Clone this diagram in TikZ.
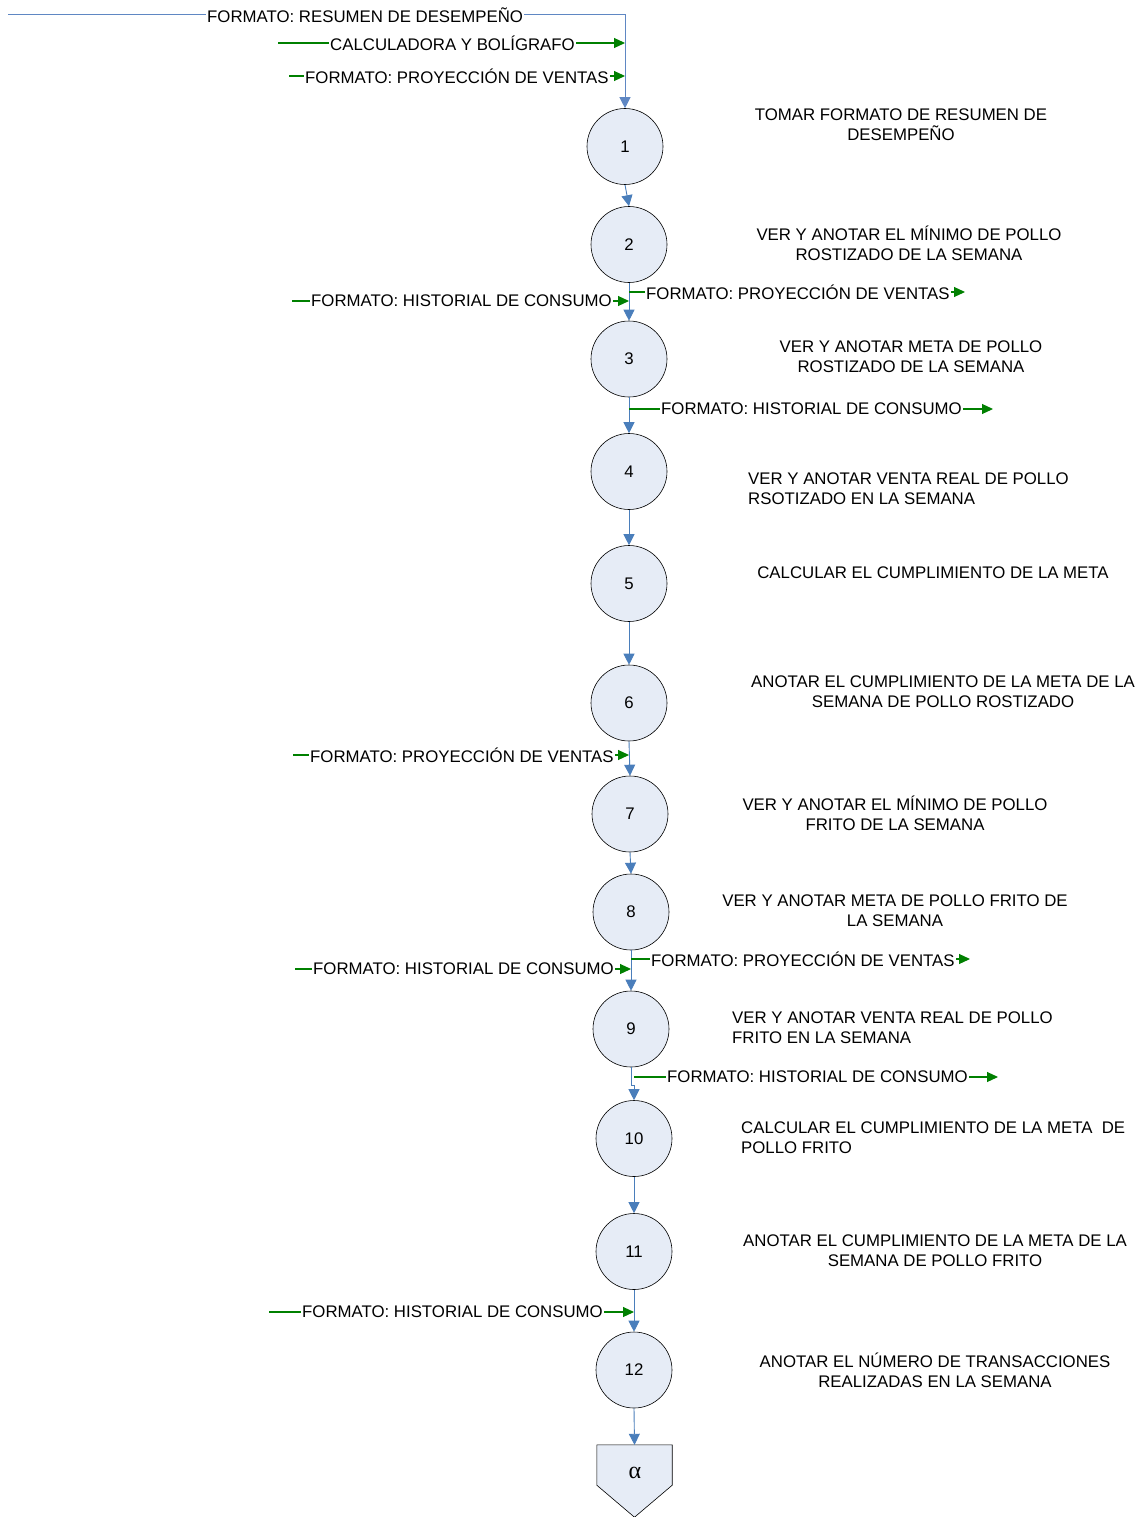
\documentclass[tikz,border=0pt]{standalone}
\usepackage{fontspec}
\setmainfont{Liberation Sans}
\newfontfamily\greekserif{Liberation Serif}
\usetikzlibrary{arrows.meta}
\definecolor{lineblue}{RGB}{74,126,187}
\definecolor{topblue}{RGB}{95,135,195}
\definecolor{fillblue}{RGB}{230,236,246}
\definecolor{flowgreen}{RGB}{0,128,0}
\begin{document}
\begin{tikzpicture}[x=1pt,y=-1pt,
 every node/.style={font=\fontsize{16.8}{20}\selectfont},
 stepnode/.style={circle, draw=black, line width=0.6pt, fill=fillblue, minimum size=76pt, inner sep=0pt},
 flow/.style={draw=lineblue, line width=0.9pt, -{Triangle[length=11pt,width=11pt]}},
 gin/.style={draw=flowgreen, line width=1.1pt, -{Triangle[length=11pt,width=10pt]}},
 lbl/.style={fill=white, inner sep=1pt, anchor=west},
 desc/.style={align=center, inner sep=0pt},
 descl/.style={align=left, inner sep=0pt, anchor=west},
]
\useasboundingbox (0,0) rectangle (1144,1517);
\fill[white] (0,0) rectangle (1144,1517);

% steps
\node[stepnode] (c1) at (625,146.5) {1};
\node[stepnode] (c2) at (629,244.5) {2};
\node[stepnode] (c3) at (629,359) {3};
\node[stepnode] (c4) at (629,471.5) {4};
\node[stepnode] (c5) at (629,583.5) {5};
\node[stepnode] (c6) at (629,703) {6};
\node[stepnode] (c7) at (630,814) {7};
\node[stepnode] (c8) at (631,912) {8};
\node[stepnode] (c9) at (631,1029) {9};
\node[stepnode] (c10) at (634,1138.5) {10};
\node[stepnode] (c11) at (634,1251.5) {11};
\node[stepnode] (c12) at (634,1370) {12};

% end connector (pentagon)
\node[minimum width=75pt, minimum height=40pt, inner sep=0pt] (pent) at (634.5,1465) {};
\draw[black, line width=0.6pt, fill=fillblue] (pent.north west) -- (pent.north east) -- (pent.south east) -- ([yshift=-32pt]pent.south) -- (pent.south west) -- cycle;
\node (alphatxt) at (635,1473) {\greekserif\fontsize{24}{24}\selectfont α};

% main flow
\draw[flow] (c1.south) -- (c2.north);
\draw[flow] (c2.south) -- (c3.north);
\draw[flow] (c3.south) -- (c4.north);
\draw[flow] (c4.south) -- (c5.north);
\draw[flow] (c5.south) -- (c6.north);
\draw[flow] (c6.south) -- (c7.north);
\draw[flow] (c7.south) -- (c8.north);
\draw[flow] (c8.south) -- (c9.north);
\draw[flow] (c9.south) -- ++(0,18) -| (c10.north);
\draw[flow] (c10.south) -- (c11.north);
\draw[flow] (c11.south) -- (c12.north);
\draw[flow] (c12.south) -- (pent.north);

% top input
\coordinate (t0) at (8,15);
\draw[flow, draw=topblue, line width=1pt] (t0) -- (t0 -| c1) -- (c1.north);
\node[lbl] (t0l) at (206,15) {FORMATO: RESUMEN DE DESEMPEÑO};

% green inputs
\coordinate (i1) at (278,43);
\draw[gin] (i1) -- (i1 -| c1);
\node[lbl] (i1l) at (329,43) {CALCULADORA Y BOLÍGRAFO};

\coordinate (i2) at (289,76);
\draw[gin] (i2) -- (i2 -| c1);
\node[lbl] (i2l) at (304,76) {FORMATO: PROYECCIÓN DE VENTAS};

\coordinate (i3) at (292,301);
\draw[gin] (i3) -- (i3 -| c3);
\node[lbl] (i3l) at (310,301) {FORMATO: HISTORIAL DE CONSUMO};

\coordinate (i4) at (293,755);
\draw[gin] (i4) -- (i4 -| c6);
\node[lbl] (i4l) at (309,755) {FORMATO: PROYECCIÓN DE VENTAS};

\coordinate (i5) at (295,969);
\draw[gin] (i5) -- (i5 -| c9);
\node[lbl] (i5l) at (312,969) {FORMATO: HISTORIAL DE CONSUMO};

\coordinate (i6) at (269,1312);
\draw[gin] (i6) -- (i6 -| c12);
\node[lbl] (i6l) at (301,1312) {FORMATO: HISTORIAL DE CONSUMO};

% green outputs
\coordinate (o1) at (965,292);
\draw[gin] (o1 -| c2) -- (o1);
\node[lbl] (o1l) at (645,292) {FORMATO: PROYECCIÓN DE VENTAS};

\coordinate (o2) at (993,409);
\draw[gin] (o2 -| c3) -- (o2);
\node[lbl] (o2l) at (660,409) {FORMATO: HISTORIAL DE CONSUMO};

\coordinate (o3) at (970,959);
\draw[gin] (o3 -| c8) -- (o3);
\node[lbl] (o3l) at (650,959) {FORMATO: PROYECCIÓN DE VENTAS};

\coordinate (o4) at (998,1077);
\draw[gin] (o4 -| c10) -- (o4);
\node[lbl] (o4l) at (666,1077) {FORMATO: HISTORIAL DE CONSUMO};

% descriptions
\node[desc] (d1) at (901,125) {TOMAR FORMATO DE RESUMEN DE\\DESEMPEÑO};
\node[desc] (d2) at (909,243) {VER Y ANOTAR EL MÍNIMO DE POLLO\\ROSTIZADO DE LA SEMANA};
\node[desc] (d3) at (911,356.5) {VER Y ANOTAR META DE POLLO\\ROSTIZADO DE LA SEMANA};
\node[descl] (d4) at (748,489) {VER Y ANOTAR VENTA REAL DE POLLO\\RSOTIZADO EN LA SEMANA};
\node[desc] (d5) at (933,573) {CALCULAR EL CUMPLIMIENTO DE LA META};
\node[desc] (d6) at (943,692) {ANOTAR EL CUMPLIMIENTO DE LA META DE LA\\SEMANA DE POLLO ROSTIZADO};
\node[desc] (d7) at (895,813) {VER Y ANOTAR EL MÍNIMO DE POLLO\\FRITO DE LA SEMANA};
\node[desc] (d8) at (895,911) {VER Y ANOTAR META DE POLLO FRITO DE\\LA SEMANA};
\node[descl] (d9) at (732,1028) {VER Y ANOTAR VENTA REAL DE POLLO\\FRITO EN LA SEMANA};
\node[descl] (d10) at (741,1138) {CALCULAR EL CUMPLIMIENTO DE LA META\ \ DE\\POLLO FRITO};
\node[desc] (d11) at (935,1251) {ANOTAR EL CUMPLIMIENTO DE LA META DE LA\\SEMANA DE POLLO FRITO};
\node[desc] (d12) at (935,1370) {ANOTAR EL NÚMERO DE TRANSACCIONES\\REALIZADAS EN LA SEMANA};
\end{tikzpicture}
\end{document}
